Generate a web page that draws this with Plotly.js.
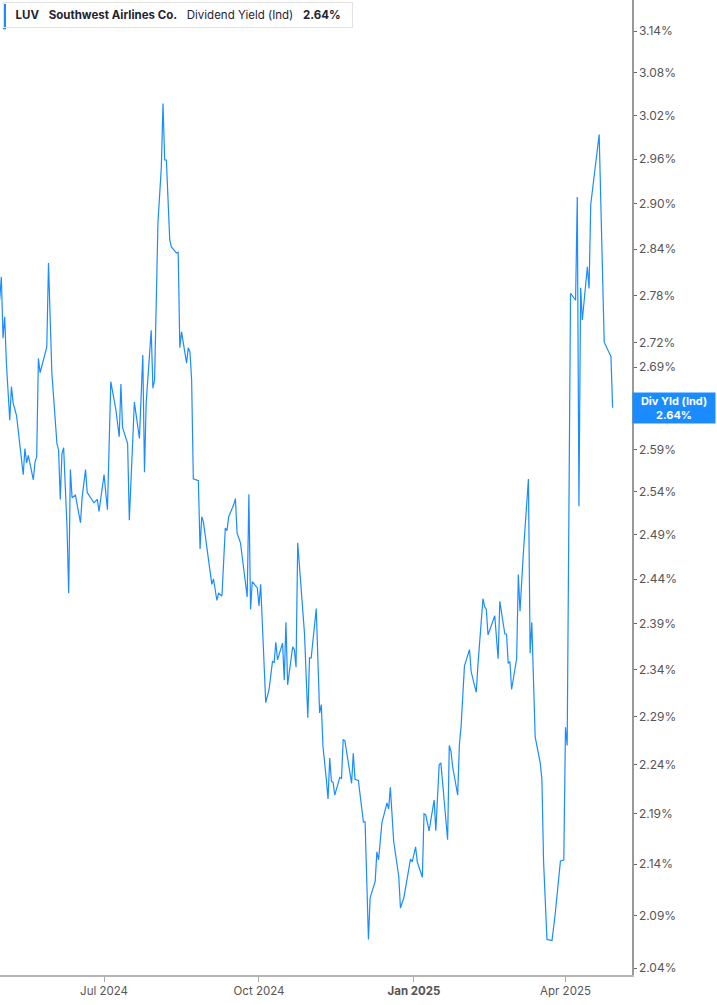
<!DOCTYPE html>
<html>
<head>
<meta charset="utf-8">
<script src="https://cdn.plot.ly/plotly-3.0.1.min.js"></script>
<style>
    html, body { margin: 0; padding: 0; background: #fff; }
    #chart { width: 717px; height: 1005px; }
</style>
</head>
<body>
<div id="chart"></div>
<script>
// LUV dividend yield (indicated)
const dates = [
    "2024-04-30", "2024-05-01", "2024-05-02", "2024-05-03", "2024-05-04", "2024-05-05", "2024-05-06", "2024-05-07",
    "2024-05-08", "2024-05-10", "2024-05-12", "2024-05-14", "2024-05-15", "2024-05-16", "2024-05-17", "2024-05-20",
    "2024-05-21", "2024-05-22", "2024-05-23", "2024-05-24", "2024-05-28", "2024-05-29", "2024-05-31", "2024-06-02",
    "2024-06-03", "2024-06-04", "2024-06-05", "2024-06-06", "2024-06-07", "2024-06-09", "2024-06-10", "2024-06-11",
    "2024-06-12", "2024-06-14", "2024-06-17", "2024-06-18", "2024-06-20", "2024-06-21", "2024-06-25", "2024-06-27",
    "2024-06-28", "2024-07-01", "2024-07-03", "2024-07-05", "2024-07-08", "2024-07-10", "2024-07-11", "2024-07-12",
    "2024-07-15", "2024-07-16", "2024-07-18", "2024-07-19", "2024-07-22", "2024-07-24", "2024-07-25", "2024-07-26",
    "2024-07-29", "2024-07-30", "2024-07-31", "2024-08-02", "2024-08-04", "2024-08-05", "2024-08-06", "2024-08-07",
    "2024-08-09", "2024-08-10", "2024-08-13", "2024-08-14", "2024-08-15", "2024-08-16", "2024-08-19", "2024-08-20",
    "2024-08-21", "2024-08-22", "2024-08-23", "2024-08-26", "2024-08-27", "2024-08-28", "2024-08-29", "2024-09-01",
    "2024-09-03", "2024-09-04", "2024-09-06", "2024-09-07", "2024-09-09", "2024-09-11", "2024-09-12", "2024-09-13",
    "2024-09-16", "2024-09-17", "2024-09-18", "2024-09-20", "2024-09-24", "2024-09-25", "2024-09-26", "2024-09-27",
    "2024-09-30", "2024-10-01", "2024-10-02", "2024-10-05", "2024-10-07", "2024-10-09", "2024-10-10", "2024-10-11",
    "2024-10-12", "2024-10-15", "2024-10-16", "2024-10-17", "2024-10-18", "2024-10-21", "2024-10-22", "2024-10-23",
    "2024-10-24", "2024-10-28", "2024-10-30", "2024-10-31", "2024-11-01", "2024-11-04", "2024-11-06", "2024-11-07",
    "2024-11-08", "2024-11-10", "2024-11-11", "2024-11-12", "2024-11-13", "2024-11-14", "2024-11-15", "2024-11-18",
    "2024-11-19", "2024-11-20", "2024-11-21", "2024-11-25", "2024-11-26", "2024-11-27", "2024-11-29", "2024-12-02",
    "2024-12-03", "2024-12-05", "2024-12-06", "2024-12-09", "2024-12-10", "2024-12-11", "2024-12-13", "2024-12-16",
    "2024-12-17", "2024-12-18", "2024-12-20", "2024-12-23", "2024-12-24", "2024-12-26", "2024-12-30", "2024-12-31",
    "2025-01-02", "2025-01-03", "2025-01-06", "2025-01-07", "2025-01-08", "2025-01-10", "2025-01-13", "2025-01-14",
    "2025-01-16", "2025-01-17", "2025-01-21", "2025-01-22", "2025-01-23", "2025-01-24", "2025-01-27", "2025-01-28",
    "2025-01-29", "2025-01-31", "2025-02-03", "2025-02-04", "2025-02-07", "2025-02-08", "2025-02-11", "2025-02-12",
    "2025-02-13", "2025-02-14", "2025-02-18", "2025-02-20", "2025-02-21", "2025-02-24", "2025-02-25", "2025-02-26",
    "2025-02-27", "2025-02-28", "2025-03-03", "2025-03-04", "2025-03-05", "2025-03-07", "2025-03-10", "2025-03-11",
    "2025-03-12", "2025-03-14", "2025-03-17", "2025-03-18", "2025-03-19", "2025-03-21", "2025-03-24", "2025-03-26",
    "2025-03-29", "2025-03-31", "2025-04-01", "2025-04-02", "2025-04-04", "2025-04-07", "2025-04-08", "2025-04-09",
    "2025-04-10", "2025-04-11", "2025-04-14", "2025-04-15", "2025-04-16", "2025-04-21", "2025-04-24", "2025-04-28",
    "2025-04-29"
]

const yields = [
    2.774, 2.804, 2.726, 2.753, 2.695, 2.662, 2.625, 2.666,
    2.646, 2.631, 2.592, 2.560, 2.591, 2.574, 2.583, 2.554,
    2.575, 2.581, 2.701, 2.683, 2.715, 2.822, 2.683, 2.629,
    2.597, 2.589, 2.531, 2.585, 2.592, 2.499, 2.424, 2.566,
    2.533, 2.536, 2.504, 2.534, 2.566, 2.539, 2.527, 2.531,
    2.517, 2.560, 2.519, 2.672, 2.638, 2.605, 2.669, 2.616,
    2.597, 2.507, 2.592, 2.647, 2.603, 2.705, 2.563, 2.646,
    2.736, 2.664, 2.674, 2.875, 2.949, 3.037, 2.959, 2.959,
    2.852, 2.843, 2.835, 2.836, 2.714, 2.734, 2.695, 2.714,
    2.709, 2.674, 2.555, 2.553, 2.474, 2.511, 2.505, 2.465,
    2.434, 2.440, 2.416, 2.424, 2.421, 2.498, 2.495, 2.511,
    2.525, 2.532, 2.492, 2.481, 2.420, 2.537, 2.406, 2.437,
    2.430, 2.410, 2.434, 2.305, 2.319, 2.349, 2.348, 2.370,
    2.351, 2.369, 2.329, 2.392, 2.324, 2.365, 2.362, 2.343,
    2.481, 2.380, 2.289, 2.353, 2.353, 2.407, 2.294, 2.303,
    2.259, 2.225, 2.205, 2.247, 2.223, 2.222, 2.209, 2.227,
    2.226, 2.266, 2.265, 2.221, 2.252, 2.225, 2.224, 2.182,
    2.182, 2.067, 2.107, 2.123, 2.152, 2.144, 2.181, 2.201,
    2.195, 2.217, 2.162, 2.128, 2.097, 2.107, 2.145, 2.142,
    2.157, 2.142, 2.127, 2.190, 2.189, 2.173, 2.204, 2.173,
    2.240, 2.242, 2.164, 2.260, 2.254, 2.238, 2.209, 2.261,
    2.280, 2.344, 2.362, 2.338, 2.316, 2.345, 2.418, 2.409,
    2.406, 2.378, 2.399, 2.352, 2.415, 2.379, 2.379, 2.347,
    2.349, 2.319, 2.352, 2.445, 2.404, 2.470, 2.555, 2.358,
    2.392, 2.269, 2.242, 2.225, 2.142, 2.067, 2.066, 2.093,
    2.143, 2.144, 2.279, 2.260, 2.783, 2.774, 2.909, 2.523,
    2.790, 2.749, 2.817, 2.789, 2.899, 2.994, 2.721, 2.703,
    2.640
]

// 2.64% sits under the last-value badge in the source, so it is left out here
const yTicks = [2.04, 2.09, 2.14, 2.19, 2.24, 2.29, 2.34, 2.39, 2.44, 2.49, 2.54,
    2.59, 2.69, 2.72, 2.78, 2.84, 2.90, 2.96, 3.02, 3.08, 3.14]
const xTickDates = ["2024-07-01", "2024-10-01", "2025-01-01", "2025-04-01"]
const xTickLabels = ["Jul 2024", "Oct 2024", "<b>Jan 2025</b>", "Apr 2025"]

const ticker = "LUV"
const company = "Southwest Airlines Co."
const metric = "Dividend Yield (Ind)"
const shortMetric = "Div Yld (Ind)"

const lineColor = "#1a8cff"
const lastValue = yields[yields.length - 1]
const sp = "&nbsp;&nbsp;&nbsp;"

let trace = {
    type: "scatter",
    mode: "lines",
    x: dates,
    y: yields,
    line: { color: lineColor, width: 1.2 },
    hoverinfo: "skip"
}

let layout = {
    width: 717,
    height: 1005,
    margin: { l: 0, r: 85, t: 0, b: 30 },
    paper_bgcolor: "#fff",
    plot_bgcolor: "#fff",
    font: { family: "Inter, 'Noto Sans', sans-serif", size: 12, color: "#555" },
    showlegend: false,
    xaxis: {
        type: "date",
        range: ["2024-04-30 05:00", "2025-05-10 12:00"],
        tickmode: "array",
        tickvals: xTickDates,
        ticktext: xTickLabels,
        ticks: "outside",
        ticklen: 5,
        tickcolor: "#aaa",
        showline: true,
        linecolor: "#b5b5b5",
        linewidth: 1.5,
        showgrid: false,
        zeroline: false,
        tickfont: { size: 11.5, color: "#555" }
    },
    yaxis: {
        type: "log",
        side: "right",
        range: [0.30823, 0.50313],
        tickmode: "array",
        tickvals: yTicks,
        ticktext: yTicks.map(v => v.toFixed(2) + "%"),
        ticks: "outside",
        ticklen: 3,
        tickcolor: "#666",
        showline: true,
        linecolor: "#999",
        linewidth: 1.5,
        showgrid: false,
        zeroline: false,
        tickfont: { size: 12, color: "#555" }
    },
    shapes: [
        {
            type: "rect", xref: "paper", yref: "paper", layer: "above",
            x0: 0.0048, x1: 0.0095, y0: 0.9700, y1: 0.9960,
            fillcolor: lineColor, line: { width: 0 }
        }
    ],
    annotations: [
        {
            xref: "paper", yref: "paper", x: 0.0040, y: 0.9975,
            xanchor: "left", yanchor: "top", showarrow: false, align: "left",
            text: "&nbsp;&nbsp;<b>" + ticker + "</b>" + sp + "<b>" + company + "</b>" + sp + metric + sp +
                "<b>" + lastValue.toFixed(2) + "%</b>&nbsp;&nbsp;",
            font: { size: 11.5, color: "#1f2430" },
            bgcolor: "rgba(0,0,0,0)",
            bordercolor: "#e3e3e3",
            borderwidth: 1,
            borderpad: 5
        },
        {
            xref: "paper", yref: "y", x: 1, y: Math.log10(lastValue),
            xanchor: "left", yanchor: "middle", showarrow: false, align: "center",
            text: "<b>" + shortMetric + "</b><br><b>" + lastValue.toFixed(2) + "%</b>",
            font: { size: 11, color: "#fff" },
            bgcolor: lineColor,
            width: 80,
            height: 28,
            borderpad: 1
        }
    ]
}

Plotly.newPlot("chart", [trace], layout, { displayModeBar: false, staticPlot: true })
</script>
</body>
</html>
